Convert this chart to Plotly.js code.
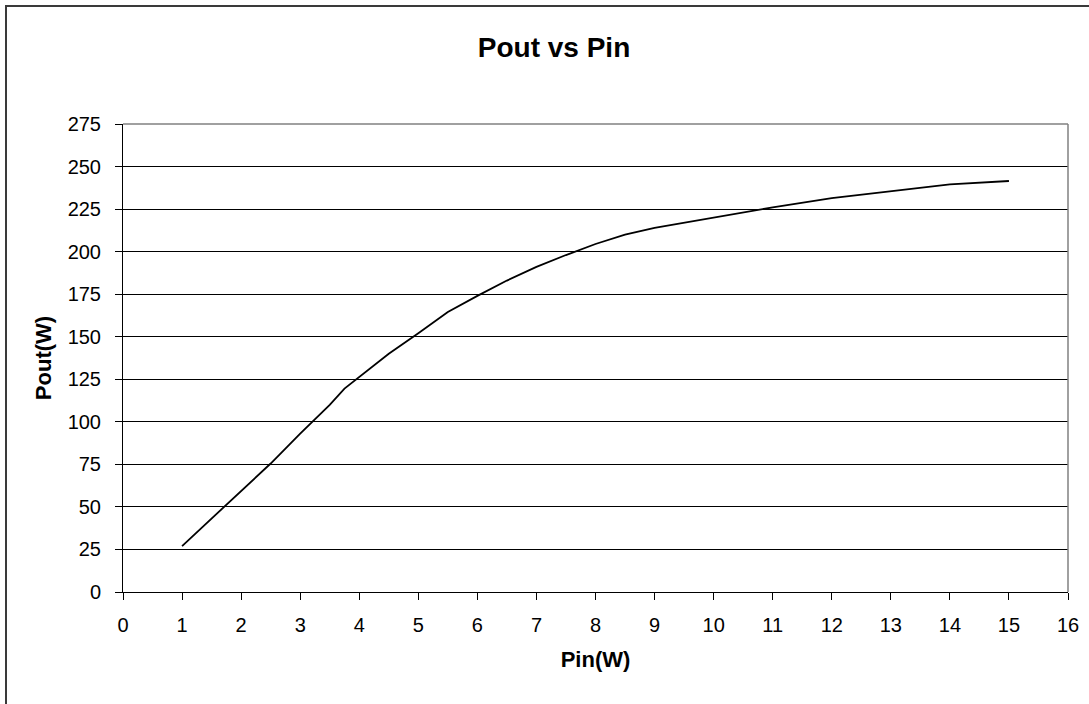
<!DOCTYPE html>
<html>
<head>
<meta charset="utf-8">
<script src="https://cdn.plot.ly/plotly-3.0.1.min.js"></script>
<style>
  html, body { margin: 0; padding: 0; overflow: hidden; background: #ffffff; width: 1089px; height: 704px; }
  #frame { position: absolute; left: 5px; top: 5px; width: 1200px; height: 800px; border-left: 2px solid #3a3a3a; border-top: 2px solid #3a3a3a; }
  #chart { position: absolute; left: 0; top: 0; width: 1089px; height: 704px; }
</style>
</head>
<body>
<div id="frame"></div>
<div id="chart"></div>
<script>
const pinW = [1, 1.5, 2, 2.5, 3, 3.5, 3.75, 4, 4.5, 5, 5.5, 6, 6.5, 7, 7.5, 8, 8.5, 9, 10, 11, 12, 13, 14, 15];
const poutW = [27, 43, 59.5, 75.5, 93, 110, 119.5, 126.5, 140, 152, 164.5, 174, 183, 191, 198, 204.5, 210, 214, 220, 226, 231.5, 235.5, 239.5, 241.5];
const chartTitle = "Pout vs Pin";
const xTitle = "Pin(W)";
const yTitle = "Pout(W)";

const FONT = "Liberation Sans, Arial, sans-serif";

const trace = {
  x: pinW,
  y: poutW,
  type: "scatter",
  mode: "lines",
  line: { color: "#000000", width: 1.8 },
  hoverinfo: "skip",
  showlegend: false
};

const layout = {
  width: 1089,
  height: 704,
  autosize: false,
  paper_bgcolor: "rgba(0,0,0,0)",
  plot_bgcolor: "#ffffff",
  margin: { l: 123, r: 21, t: 124, b: 112, pad: 0 },
  font: { family: FONT, color: "#000000", size: 20 },
  title: {
    text: chartTitle,
    font: { family: FONT, size: 28, color: "#000000", weight: "bold" },
    xref: "container", yref: "container",
    x: 554 / 1089, xanchor: "center",
    y: 1 - 47 / 704, yanchor: "middle"
  },
  xaxis: {
    range: [0, 16],
    tickmode: "linear", tick0: 0, dtick: 1,
    showgrid: false,
    zeroline: false,
    showline: true, linecolor: "#000000", linewidth: 1,
    ticks: "outside", ticklen: 7, tickwidth: 1, tickcolor: "#000000",
    tickfont: { family: FONT, size: 20, color: "#000000" },
    ticklabelstandoff: 8,
    title: { text: xTitle, font: { family: FONT, size: 22, color: "#000000", weight: "bold" }, standoff: 16 },
    automargin: false,
    fixedrange: true
  },
  yaxis: {
    range: [0, 275],
    tickmode: "linear", tick0: 0, dtick: 25,
    showgrid: true, gridcolor: "#000000", gridwidth: 1,
    zeroline: false,
    showline: true, linecolor: "#000000", linewidth: 1,
    ticks: "outside", ticklen: 7, tickwidth: 1, tickcolor: "#000000",
    tickfont: { family: FONT, size: 20, color: "#000000" },
    ticklabelstandoff: 10,
    title: { text: yTitle, font: { family: FONT, size: 22, color: "#000000", weight: "bold" }, standoff: 9 },
    automargin: false,
    fixedrange: true
  },
  shapes: [
    { type: "line", xref: "paper", yref: "paper", x0: 0, x1: 1, y0: 1, y1: 1, line: { color: "#808080", width: 1.5 } },
    { type: "line", xref: "paper", yref: "paper", x0: 1, x1: 1, y0: 0, y1: 1, line: { color: "#808080", width: 1.5 } }
  ]
};

Plotly.newPlot("chart", [trace], layout, { staticPlot: true, displayModeBar: false });
</script>
</body>
</html>
